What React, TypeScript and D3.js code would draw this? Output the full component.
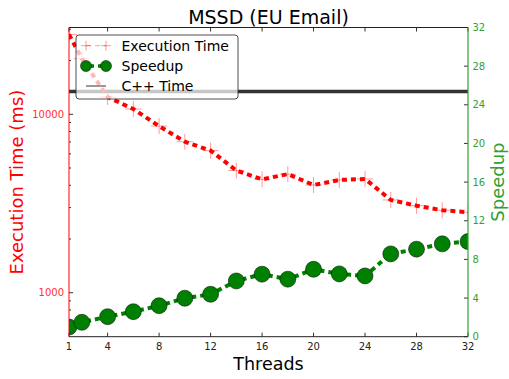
import React from "react";
import * as d3 from "d3";

const threads = [1, 2, 4, 6, 8, 10, 12, 14, 16, 18, 20, 22, 24, 26, 28, 30, 32];
const execTime = [28000, 20500, 12500, 10700, 8590, 7020, 6260, 4840, 4320, 4620, 4015, 4285, 4340, 3310, 3075, 2900, 2825];
const speedup = [1.0, 1.49, 2.07, 2.59, 3.21, 3.98, 4.39, 5.77, 6.47, 5.95, 6.98, 6.5, 6.29, 8.57, 9.06, 9.61, 9.85];
const cppTime = 13400;
const xTicks = [1, 4, 8, 12, 16, 20, 24, 28, 32];
const yLeftMajor = [1000, 10000];
const yLeftMinor = [600, 700, 800, 900, 2000, 3000, 4000, 5000, 6000, 7000, 8000, 9000, 20000, 30000];
const yRightTicks = [0, 4, 8, 12, 16, 20, 24, 28, 32];

const W = 509;
const H = 379;
const L = 69, R = 468, T = 27.5, B = 336.7;
const FONT = "'DejaVu Sans', sans-serif";
const RED = "#ff0000";
const GREEN = "#008000";
const GREEN_AX = "#33a033";

export default function App() {
  const x = d3.scaleLinear().domain([1, 32]).range([L, R]);
  const yL = d3.scaleLog().domain([Math.pow(10, 2.7534), Math.pow(10, 4.4865)]).range([B, T]);
  const yR = d3.scaleLinear().domain([0, 32]).range([B, T]);

  const execLine = d3.line<number>().x((_, i) => x(threads[i])).y((d) => yL(d))(execTime) || "";
  const speedLine = d3.line<number>().x((_, i) => x(threads[i])).y((d) => yR(d))(speedup) || "";

  const tickColor = "#333";
  return (
    <svg width={W} height={H} style={{ position: "absolute", left: 0, top: 0, background: "#fff" }} fontFamily={FONT}>
      <defs>
        <clipPath id="plotClip">
          <rect x={L} y={T} width={R - L} height={B - T} />
        </clipPath>
      </defs>
      <rect x={0} y={0} width={W} height={H} fill="#fff" />

      {/* data */}
      <g clipPath="url(#plotClip)">
        <line x1={L} x2={R} y1={yL(cppTime)} y2={yL(cppTime)} stroke="#333" strokeWidth={3.5} />
        {execTime.map((v, i) => (
          <g key={"c" + i} stroke={RED} strokeOpacity={0.4} strokeWidth={1}>
            <line x1={x(threads[i]) - 8} x2={x(threads[i]) + 8} y1={yL(v)} y2={yL(v)} />
            <line x1={x(threads[i])} x2={x(threads[i])} y1={yL(v) - 8} y2={yL(v) + 8} />
          </g>
        ))}
        <path d={execLine} fill="none" stroke={RED} strokeWidth={4} strokeDasharray="5,4" />
        <path d={speedLine} fill="none" stroke={GREEN} strokeWidth={4} strokeDasharray="5,4" />
        {speedup.map((v, i) => (
          <circle key={"s" + i} cx={x(threads[i])} cy={yR(v)} r={8} fill={GREEN} stroke="#000" strokeWidth={0.5} />
        ))}
      </g>

      {/* x ticks (bottom and top, inside) */}
      {xTicks.map((t) => (
        <g key={"xt" + t}>
          <line x1={x(t)} x2={x(t)} y1={B} y2={B - 4} stroke={tickColor} strokeWidth={1} />
          <line x1={x(t)} x2={x(t)} y1={T} y2={T + 4} stroke={tickColor} strokeWidth={1} />
          <text x={x(t)} y={349.5} fontSize={10} textAnchor="middle" fill="#222">{t}</text>
        </g>
      ))}

      {/* left log ticks */}
      {yLeftMajor.map((v) => (
        <g key={"yl" + v}>
          <line x1={L} x2={L + 4} y1={yL(v)} y2={yL(v)} stroke={tickColor} strokeWidth={1} />
          <text x={64} y={yL(v) + 3.6} fontSize={10} textAnchor="end" fill="#ff3333">{v}</text>
        </g>
      ))}
      {yLeftMinor.map((v) => (
        <line key={"ym" + v} x1={L} x2={L + 2} y1={yL(v)} y2={yL(v)} stroke={tickColor} strokeWidth={1} />
      ))}

      {/* right ticks */}
      {yRightTicks.map((v) => (
        <g key={"yr" + v}>
          <line x1={R} x2={R - 4} y1={yR(v)} y2={yR(v)} stroke={tickColor} strokeWidth={1} />
          <text x={472.5} y={yR(v) + 3.6} fontSize={10} textAnchor="start" fill={GREEN_AX}>{v}</text>
        </g>
      ))}

      {/* spines */}
      <line x1={L} x2={R} y1={T} y2={T} stroke="#222" strokeWidth={1} />
      <line x1={L} x2={R} y1={B} y2={B} stroke="#222" strokeWidth={1} />
      <line x1={L} x2={L} y1={T} y2={B} stroke={RED} strokeWidth={1} />
      <line x1={R} x2={R} y1={T} y2={B} stroke={GREEN_AX} strokeWidth={1.2} />

      {/* legend */}
      <g>
        <rect x={76} y={35} width={162} height={64} rx={3} fill="#fff" fillOpacity={0.72} stroke="#222" strokeWidth={0.8} />
        <g stroke={RED} strokeOpacity={0.4} strokeWidth={1}>
          <line x1={86} x2={106} y1={45.7} y2={45.7} strokeDasharray="5,4" />
          <line x1={81} x2={91} y1={45.7} y2={45.7} />
          <line x1={86} x2={86} y1={40.7} y2={50.7} />
          <line x1={101} x2={111} y1={45.7} y2={45.7} />
          <line x1={106} x2={106} y1={40.7} y2={50.7} />
        </g>
        <text x={121.5} y={50.8} fontSize={14} fill="#000">Execution Time</text>
        <line x1={86} x2={106} y1={66} y2={66} stroke={GREEN} strokeWidth={3.5} strokeDasharray="5,4" strokeDashoffset={-3} />
        <circle cx={86} cy={66} r={5.5} fill={GREEN} stroke="#000" strokeWidth={0.5} />
        <circle cx={106} cy={66} r={5.5} fill={GREEN} stroke="#000" strokeWidth={0.5} />
        <text x={121.5} y={71.1} fontSize={14} fill="#000">Speedup</text>
        <line x1={86} x2={106} y1={86} y2={86} stroke="#777" strokeWidth={1.5} />
        <text x={121.5} y={91.1} fontSize={14} fill="#000">C++ Time</text>
      </g>

      {/* titles and labels */}
      <text x={268.5} y={23.5} fontSize={19} textAnchor="middle" fill="#000">MSSD (EU Email)</text>
      <text x={268.5} y={370} fontSize={17.5} textAnchor="middle" fill="#000">Threads</text>
      <text transform={`translate(22.5, ${(T + B) / 2}) rotate(-90)`} fontSize={18} textAnchor="middle" fill={RED}>Execution Time (ms)</text>
      <text transform={`translate(504, ${(T + B) / 2}) rotate(-90)`} fontSize={18} textAnchor="middle" fill={GREEN_AX}>Speedup</text>
    </svg>
  );
}
